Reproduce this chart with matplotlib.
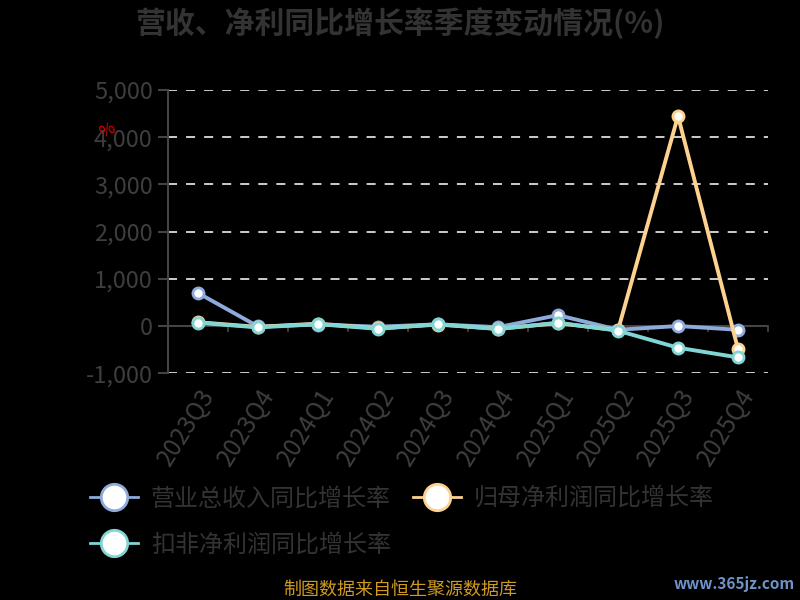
import matplotlib
matplotlib.use("Agg")
import matplotlib.pyplot as plt
from matplotlib.lines import Line2D

plt.rcParams['font.family'] = ['Noto Sans CJK SC', 'DejaVu Sans']

quarters = ["2023Q3", "2023Q4", "2024Q1", "2024Q2", "2024Q3", "2024Q4",
            "2025Q1", "2025Q2", "2025Q3", "2025Q4"]
revenue_yoy = [700, -10, 30, -15, 35, -25, 230, -80, 0, -80]
netprofit_yoy = [80, -20, 50, -50, 30, -60, 60, -90, 4450, -490]
deducted_yoy = [70, -30, 40, -60, 40, -65, 70, -100, -460, -665]
y_ticks = [-1000, 0, 1000, 2000, 3000, 4000, 5000]

series_names = ["营业总收入同比增长率", "归母净利润同比增长率", "扣非净利润同比增长率"]
colors = ["#8fabdc", "#fdd28f", "#80d6d4"]

fig = plt.figure(figsize=(8, 6), dpi=100, facecolor="black")
ax = fig.add_axes([0.21, 0.378, 0.75, 0.472], facecolor="black")

x = list(range(len(quarters)))
for vals, c, z in zip([revenue_yoy, netprofit_yoy, deducted_yoy], colors, [3, 4, 5]):
    ax.plot(x, vals, color=c, lw=2.8, marker="o", ms=8, mfc="white",
            mec=c, mew=2, zorder=z, solid_joinstyle="round")

ax.set_xlim(-0.5, 9.5)
ax.set_ylim(-1000, 5000)
ax.set_yticks(y_ticks)
ax.set_yticklabels([f"{v:,}" for v in y_ticks], fontsize=17, color="#3e3e3e",
                   fontweight="light")
for v in y_ticks:
    if v != 0:
        ax.axhline(v, color="#dddddd", lw=1.3, ls=(0, (5, 5)), zorder=1)
ax.axhline(0, color="#444444", lw=1.5, zorder=2)

ax.set_xticks(x)
ax.set_xticklabels(quarters, rotation=58, ha="right", va="top",
                   rotation_mode="anchor", fontsize=17.5, color="#3e3e3e",
                   fontweight="light")
ax.tick_params(axis="x", length=0, pad=8)
ax.tick_params(axis="y", length=7, width=1.5, color="#444444", pad=4)
# x category boundary ticks on the zero line
for b in range(1, len(quarters) + 1):
    xb = b - 0.5
    ax.plot([xb, xb], [0, -110], color="#444444", lw=1.3, zorder=2, clip_on=False)

for s in ["top", "right", "bottom"]:
    ax.spines[s].set_visible(False)
ax.spines["left"].set_color("#444444")
ax.spines["left"].set_linewidth(1.5)

fig.text(0.5, 0.962, "营收、净利同比增长率季度变动情况(%)", ha="center", va="center",
         fontsize=21.5, fontweight="bold", color="#333333")
fig.text(0.134, 0.783, "%", ha="center", va="center", fontsize=12, color="#e00000", rotation=25)

handles = [Line2D([0], [0], color=c, lw=2, marker="o", ms=19, mfc="white", mec=c, mew=2)
           for c in colors]
order = [0, 2, 1]
leg = fig.legend([handles[i] for i in order], [series_names[i] for i in order],
                 loc="upper left", bbox_to_anchor=(0.1, 0.207),
                 ncol=2, frameon=False, labelcolor="#333333",
                 handlelength=2.0, handletextpad=0.55, columnspacing=0.9,
                 labelspacing=0.85, borderaxespad=0, prop={"weight": "light", "size": 17.3})

fig.text(0.5, 0.017, "制图数据来自恒生聚源数据库", ha="center", va="center",
         fontsize=13, color="#d09a22")
fig.text(0.993, 0.027, "www.365jz.com", ha="right", va="center",
         fontsize=11, color="#6e93c8", fontweight="bold")

fig.savefig("out.png", dpi=100, facecolor="black")
